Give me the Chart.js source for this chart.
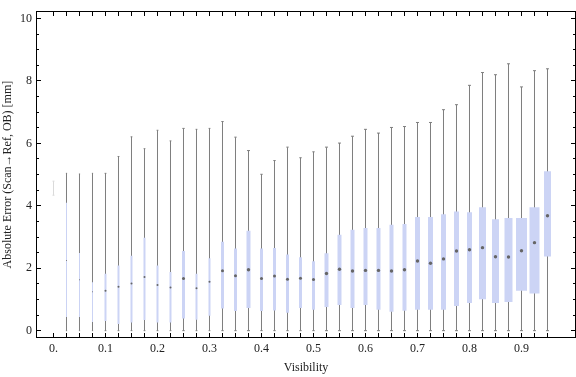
<!DOCTYPE html>
<html>
<head>
<meta charset="utf-8">
<script src="https://cdn.jsdelivr.net/npm/chart.js@4.4.1/dist/chart.umd.min.js"></script>
<style>
  html, body { margin: 0; padding: 0; background: #fff; }
  canvas { display: block; }
</style>
</head>
<body>
<canvas id="graphe" width="576" height="377"></canvas>
<script>
// Data
const visibility = [0, 0.025, 0.05, 0.075, 0.1, 0.125, 0.15, 0.175, 0.2, 0.225, 0.25, 0.275, 0.3, 0.325,
    0.35, 0.375, 0.4, 0.425, 0.45, 0.475, 0.5, 0.525, 0.55, 0.575, 0.6, 0.625, 0.65, 0.675, 0.7, 0.725,
    0.75, 0.775, 0.8, 0.825, 0.85, 0.875, 0.9, 0.925, 0.95];
const whiskerLow = [4.34, 0, 0, 0, 0, 0, 0, 0, 0, 0, 0, 0, 0, 0, 0, 0, 0, 0, 0, 0, 0, 0, 0, 0, 0, 0, 0, 0,
    0, 0, 0, 0, 0, 0, 0, 0, 0, 0, 0];
const whiskerHigh = [4.79, 5.04, 5.02, 5.04, 5.04, 5.58, 6.21, 5.83, 6.42, 6.08, 6.48, 6.45, 6.48, 6.70,
    6.20, 5.77, 5.01, 5.45, 5.88, 5.54, 5.73, 5.88, 6.01, 6.23, 6.45, 6.33, 6.51, 6.54, 6.67, 6.67,
    7.08, 7.24, 7.86, 8.27, 8.20, 8.55, 7.81, 8.33, 8.39];
const quartile1 = [null, 0.44, 0.44, 0.28, 0.31, 0.21, 0.26, 0.34, 0.26, 0.26, 0.39, 0.35, 0.48, 0.71,
    0.63, 0.73, 0.63, 0.65, 0.57, 0.73, 0.67, 0.76, 0.82, 0.73, 0.82, 0.67, 0.61, 0.64, 0.67, 0.67,
    0.67, 0.79, 0.89, 1.01, 0.89, 0.92, 1.28, 1.19, 2.38];
const quartile3 = [null, 4.10, 2.49, 1.55, 1.82, 2.09, 2.40, 2.98, 2.09, 1.88, 2.55, 1.82, 2.32, 2.85,
    2.63, 3.20, 2.63, 2.65, 2.44, 2.35, 2.22, 2.48, 3.07, 3.23, 3.29, 3.29, 3.39, 3.42, 3.64, 3.64,
    3.73, 3.82, 3.79, 3.95, 3.57, 3.61, 3.61, 3.95, 5.11];
const medians = [null, 2.25, 1.63, 1.25, 1.28, 1.41, 1.51, 1.72, 1.46, 1.38, 1.67, 1.36, 1.57, 1.92,
    1.76, 1.95, 1.67, 1.75, 1.65, 1.68, 1.64, 1.83, 1.97, 1.91, 1.93, 1.93, 1.91, 1.95, 2.23, 2.16,
    2.30, 2.55, 2.59, 2.66, 2.37, 2.36, 2.56, 2.82, 3.68];

const xTickValues = [0, 0.1, 0.2, 0.3, 0.4, 0.5, 0.6, 0.7, 0.8, 0.9];
const xTickLabels = ["0.", "0.1", "0.2", "0.3", "0.4", "0.5", "0.6", "0.7", "0.8", "0.9"];
const yTickValues = [0, 2, 4, 6, 8, 10];
const yTickLabels = ["0", "2", "4", "6", "8", "10"];

// Style: box width in px for each box
const boxWidths = [0, 1, 1, 1, 2, 2, 2, 2, 2, 2, 3, 2, 2, 3, 3, 4, 3, 3, 3, 3, 3, 4,
    4, 4, 4, 4, 4, 4, 5, 5, 5, 5, 5, 7, 7, 8, 11, 10, 7];

const boxColor = "#ccd4f5";
const whiskerColor = "#7f7f7f";
const faintColor = "#dadada";
const fontFamily = "'Liberation Serif', 'Times New Roman', serif";

//Cadre et graduations vers l'intérieur
const cadre = {
    id: "cadre",
    afterDraw(chart) {
        const ctx = chart.ctx;
        const a = chart.chartArea;
        const x = chart.scales.x, y = chart.scales.y;
        const left = Math.round(a.left), right = Math.round(a.right);
        const top = Math.round(a.top), bottom = Math.round(a.bottom);
        ctx.save();
        ctx.fillStyle = "#000";
        // graduations en x
        for (let i = 0; i < visibility.length; i++) {
            let px = Math.floor(x.getPixelForValue(visibility[i]));
            ctx.fillRect(px, bottom - 5, 1, 5);
            ctx.fillRect(px, top, 1, 5);
        }
        // graduations en y
        for (let k = 0; k <= 20; k++) {
            let py = Math.floor(y.getPixelForValue(k * 0.5));
            let len = (k % 4 === 0) ? 5 : 3;
            ctx.fillRect(left, py, len, 1);
            ctx.fillRect(right - len, py, len, 1);
        }
        // cadre
        ctx.fillRect(left, top, right - left, 1);
        ctx.fillRect(left, bottom - 1, right - left, 1);
        ctx.fillRect(left, top, 1, bottom - top);
        ctx.fillRect(right - 1, top, 1, bottom - top);
        ctx.restore();
    }
};

let datasets = [];

// Whiskers
datasets.push({
    type: "bar",
    data: visibility.map((v, i) => ({ x: v, y: [whiskerLow[i], whiskerHigh[i]] })),
    backgroundColor: (c) => c.dataIndex === 0 ? faintColor : whiskerColor,
    barThickness: 1,
    inflateAmount: 0,
    grouped: false,
    order: 3
});

// Boxes
for (let i = 0; i < visibility.length; i++) {
    if (quartile1[i] === null) continue;
    datasets.push({
        type: "bar",
        data: [{ x: visibility[i], y: [quartile1[i], quartile3[i]] }],
        backgroundColor: boxColor,
        barThickness: boxWidths[i],
        inflateAmount: 0,
        grouped: false,
        order: 2
    });
}

const capRadius = (c) => {
    if (c.dataIndex === 0) return 1;
    return Math.min(1.5, 0.3 + boxWidths[c.dataIndex] * 0.3);
};

// Caps
datasets.push({
    type: "scatter",
    data: visibility.map((v, i) => ({ x: v, y: whiskerHigh[i] })),
    pointStyle: "line",
    pointRadius: capRadius,
    borderColor: (c) => c.dataIndex === 0 ? faintColor : whiskerColor,
    borderWidth: 1,
    order: 1
});
datasets.push({
    type: "scatter",
    data: visibility.map((v, i) => ({ x: v, y: whiskerLow[i] })),
    pointStyle: "line",
    pointRadius: capRadius,
    borderColor: (c) => c.dataIndex === 0 ? faintColor : whiskerColor,
    borderWidth: 1,
    order: 1
});

// Medians
datasets.push({
    type: "scatter",
    data: visibility.map((v, i) => ({ x: v, y: medians[i] })),
    pointStyle: "circle",
    pointRadius: (c) => Math.min(1.7, boxWidths[c.dataIndex] * 0.5),
    backgroundColor: "#666666",
    borderWidth: 0,
    order: 0
});

new Chart(document.getElementById("graphe"), {
    type: "bar",
    data: { datasets: datasets },
    plugins: [cadre],
    options: {
        responsive: false,
        animation: false,
        devicePixelRatio: 1,
        layout: { padding: { top: 4, right: 0, left: 0, bottom: 0 }, autoPadding: false },
        plugins: { legend: { display: false }, tooltip: { enabled: false } },
        scales: {
            x: {
                type: "linear",
                offset: false,
                min: -0.03365,
                max: 1.00481,
                grid: { display: false, drawTicks: false },
                border: { display: false },
                afterBuildTicks: (s) => { s.ticks = xTickValues.map(v => ({ value: v })); },
                afterFit: (s) => { s.height = 39; },
                ticks: {
                    autoSkip: false,
                    maxRotation: 0,
                    padding: 4,
                    color: "#222",
                    font: { family: fontFamily, size: 12 },
                    callback: (v, i) => xTickLabels[i]
                },
                title: {
                    display: true,
                    text: "Visibility",
                    color: "#222",
                    font: { family: fontFamily, size: 12 },
                    padding: { top: 0, bottom: 2 }
                }
            },
            y: {
                type: "linear",
                min: -0.235,
                max: 10.235,
                grid: { display: false, drawTicks: false },
                border: { display: false },
                afterBuildTicks: (s) => { s.ticks = yTickValues.map(v => ({ value: v })); },
                afterFit: (s) => { s.width = 36; },
                ticks: {
                    padding: 4,
                    color: "#222",
                    font: { family: fontFamily, size: 12 },
                    callback: (v, i) => yTickLabels[i]
                },
                title: {
                    display: true,
                    text: "Absolute Error (Scan\u2192Ref, OB) [mm]",
                    color: "#222",
                    font: { family: fontFamily, size: 12 },
                    padding: { top: 1, bottom: 0 }
                }
            }
        }
    }
});
</script>
</body>
</html>
